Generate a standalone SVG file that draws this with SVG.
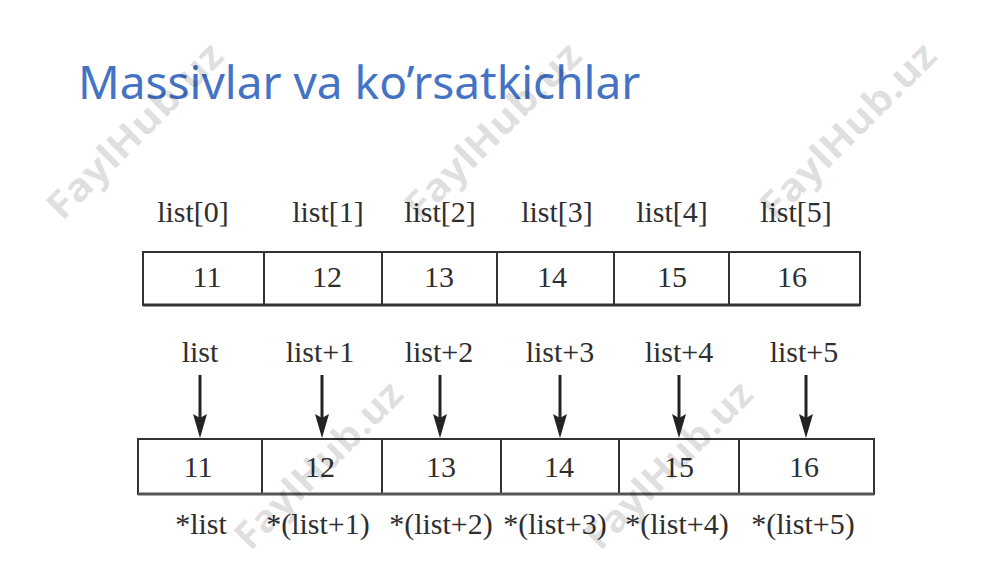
<svg xmlns="http://www.w3.org/2000/svg" width="1000" height="562" viewBox="0 0 1000 562">
<style>
.title{font-family:"Noto Sans","Open Sans",sans-serif;font-size:46px;fill:#4472C4}
.t{font-family:"Liberation Serif","Times New Roman",serif;font-size:30px;fill:#2e2e2e;text-anchor:middle}
.cell{fill:#fff;stroke:#333;stroke-width:2}
.wm{font-family:"Open Sans","Noto Sans",sans-serif;font-weight:bold;font-size:38px;fill:#000;fill-opacity:0.12}
.arr{stroke:#222;stroke-width:3;fill:none;marker-end:url(#ah)}
</style>
<defs>
<marker id="ah" viewBox="0 -7 24 14" refX="6" refY="0" markerWidth="24" markerHeight="14" markerUnits="userSpaceOnUse" orient="auto">
<path d="M0,-7 L24,0 L0,7 L4,0 Z" fill="#222"/>
</marker>
</defs>
<rect width="1000" height="562" fill="#fff"/>
<g id="title"><text class="title" x="78" y="99">Massivlar va ko’rsatkichlar</text></g>

<g id="top-labels">
<text class="t" x="193" y="222">list[0]</text>
<text class="t" x="328" y="222">list[1]</text>
<text class="t" x="440" y="222">list[2]</text>
<text class="t" x="557" y="222">list[3]</text>
<text class="t" x="672" y="222">list[4]</text>
<text class="t" x="796" y="222">list[5]</text>
</g>

<g id="top-array">
<g id="top0"><rect class="cell" x="143" y="252" width="121" height="53"/><text class="t" x="207" y="287">11</text></g>
<g id="top1"><rect class="cell" x="264" y="252" width="118" height="53"/><text class="t" x="327" y="287">12</text></g>
<g id="top2"><rect class="cell" x="382" y="252" width="115" height="53"/><text class="t" x="439" y="287">13</text></g>
<g id="top3"><rect class="cell" x="497" y="252" width="117" height="53"/><text class="t" x="552" y="287">14</text></g>
<g id="top4"><rect class="cell" x="614" y="252" width="115" height="53"/><text class="t" x="672" y="287">15</text></g>
<g id="top5"><rect class="cell" x="729" y="252" width="131" height="53"/><text class="t" x="792" y="287">16</text></g>
<line x1="143" y1="305" x2="860" y2="305" stroke="#333" stroke-width="3"/>
</g>

<g id="pointer-labels">
<text class="t" x="200" y="362">list</text>
<text class="t" x="320" y="362">list+1</text>
<text class="t" x="439" y="362">list+2</text>
<text class="t" x="560" y="362">list+3</text>
<text class="t" x="679" y="362">list+4</text>
<text class="t" x="804" y="362">list+5</text>
</g>

<g id="connectors">
<line class="arr" x1="200" y1="375" x2="200" y2="420"/>
<line class="arr" x1="322" y1="375" x2="322" y2="420"/>
<line class="arr" x1="440" y1="375" x2="440" y2="420"/>
<line class="arr" x1="560" y1="375" x2="560" y2="420"/>
<line class="arr" x1="679" y1="375" x2="679" y2="420"/>
<line class="arr" x1="806" y1="375" x2="806" y2="420"/>
</g>

<g id="bottom-array">
<g id="bot0"><rect class="cell" x="138" y="439" width="124" height="55"/><text class="t" x="198" y="477">11</text></g>
<g id="bot1"><rect class="cell" x="262" y="439" width="120" height="55"/><text class="t" x="320" y="477">12</text></g>
<g id="bot2"><rect class="cell" x="382" y="439" width="119" height="55"/><text class="t" x="441" y="477">13</text></g>
<g id="bot3"><rect class="cell" x="501" y="439" width="118" height="55"/><text class="t" x="559" y="477">14</text></g>
<g id="bot4"><rect class="cell" x="619" y="439" width="120" height="55"/><text class="t" x="679" y="477">15</text></g>
<g id="bot5"><rect class="cell" x="739" y="439" width="135" height="55"/><text class="t" x="804" y="477">16</text></g>
<line x1="138" y1="494" x2="874" y2="494" stroke="#555" stroke-width="3"/>
</g>

<g id="deref-labels">
<text class="t" x="201" y="534">*list</text>
<text class="t" x="318" y="534">*(list+1)</text>
<text class="t" x="441" y="534">*(list+2)</text>
<text class="t" x="555" y="534">*(list+3)</text>
<text class="t" x="677" y="534">*(list+4)</text>
<text class="t" x="803" y="534">*(list+5)</text>
</g>

<g id="watermarks">
<text class="wm" transform="translate(62,222) rotate(-45)" textLength="232" lengthAdjust="spacingAndGlyphs">FaylHub.uz</text>
<text class="wm" transform="translate(420,222) rotate(-45)" textLength="232" lengthAdjust="spacingAndGlyphs">FaylHub.uz</text>
<text class="wm" transform="translate(775,222) rotate(-45)" textLength="232" lengthAdjust="spacingAndGlyphs">FaylHub.uz</text>
<text class="wm" transform="translate(250,552) rotate(-45)" textLength="220" lengthAdjust="spacingAndGlyphs">FaylHub.uz</text>
<text class="wm" transform="translate(600,552) rotate(-45)" textLength="220" lengthAdjust="spacingAndGlyphs">FaylHub.uz</text>
</g>
</svg>
